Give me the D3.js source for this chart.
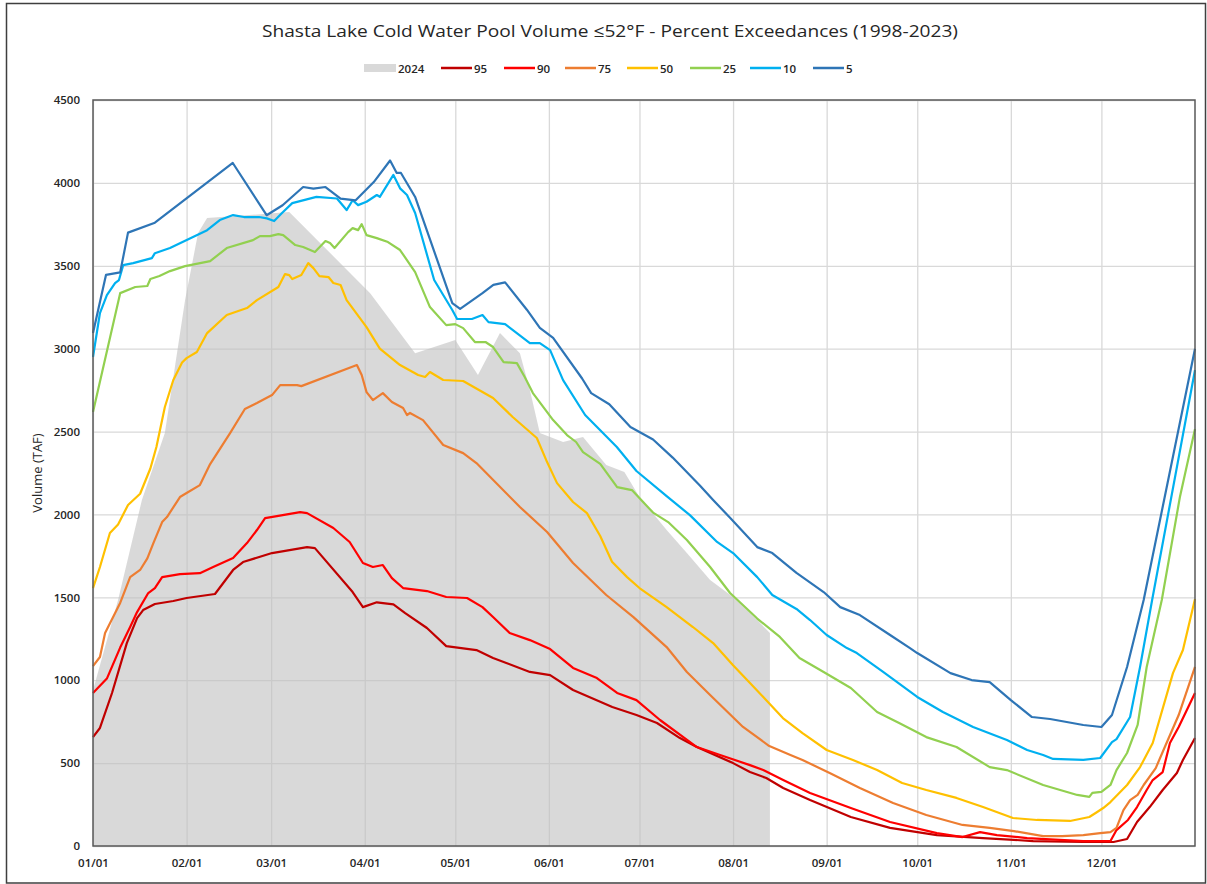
<!DOCTYPE html>
<html>
<head>
<meta charset="utf-8">
<script src="https://cdn.jsdelivr.net/npm/d3@7"></script>
<style>
    body { margin: 0; background: #fff; }
    svg { display: block; font-family: "Open Sans", "Noto Sans", sans-serif; }
</style>
</head>
<body>
<svg id="chart" width="1207" height="884"></svg>
<script>
// month ticks (day of year) and their labels
const monthDays = [0, 31, 59, 90, 120, 151, 181, 212, 243, 273, 304, 334];
const monthLabels = ["01/01", "02/01", "03/01", "04/01", "05/01", "06/01", "07/01", "08/01", "09/01", "10/01", "11/01", "12/01"];
const yTicks = [0, 500, 1000, 1500, 2000, 2500, 3000, 3500, 4000, 4500];

// 2024 observed (grey area)
const days2024 = [0, 8.3, 16.2, 23.8, 30.5, 34.8, 37.8, 65, 91.8, 106.7, 120, 127.5, 134.8, 141.4, 144.7, 148, 155.7, 162.3, 170, 176, 181, 190, 196.7, 204.4, 212, 220, 224.2];
const vol2024 = [940, 1484, 2087, 2491, 3293, 3697, 3788, 3824, 3335, 2973, 3052, 2841, 3094, 2973, 2750, 2491, 2437, 2467, 2298, 2256, 2105, 1906, 1767, 1604, 1502, 1363, 1285];

// percent exceedances 1998-2023
const days95 = [0, 2.3, 6.3, 11.2, 14.6, 16.6, 20.5, 26.6, 31, 40.4, 46.4, 49.7, 59.3, 70.9, 73.5, 86, 89.4, 94, 99.5, 103.4, 110.6, 117, 127, 132.5, 144.7, 151.4, 159, 172, 180, 186.8, 194.4, 200, 212, 217.6, 223, 228.6, 237.5, 251, 264, 279.5, 294.8, 311.4, 328, 338, 342.5, 345.8, 350, 354.3, 359, 361, 365];
const vol95 = [657, 712, 923, 1224, 1375, 1423, 1460, 1478, 1496, 1520, 1665, 1713, 1767, 1803, 1797, 1532, 1441, 1470, 1458, 1405, 1315, 1206, 1182, 1134, 1050, 1031, 941, 838, 790, 742, 651, 597, 500, 446, 410, 350, 277, 175, 109, 66, 48, 30, 24, 24, 42, 145, 235, 338, 440, 519, 651];

const days90 = [0, 4.6, 9, 12.3, 14.6, 18.3, 20.5, 22.9, 28.8, 35.4, 39.8, 46.4, 51, 54.3, 57, 60.9, 68.6, 70.9, 79.6, 85, 89.4, 92.7, 96, 99, 102.7, 110.6, 117, 123.9, 129, 132.5, 138, 144.7, 151.4, 159, 166.9, 173.6, 180, 187.8, 200, 207.7, 217.6, 222, 228.6, 237.5, 251, 264, 279.5, 288, 293.8, 299.4, 309.4, 328, 337, 339, 342.8, 345.8, 349, 351, 354.3, 356.7, 359.6, 365];
const vol90 = [923, 1010, 1197, 1321, 1411, 1526, 1556, 1622, 1640, 1646, 1683, 1737, 1827, 1906, 1978, 1990, 2014, 2008, 1918, 1834, 1707, 1683, 1695, 1616, 1556, 1538, 1502, 1496, 1441, 1381, 1285, 1242, 1188, 1074, 1013, 923, 880, 760, 597, 549, 488, 458, 398, 320, 229, 145, 78, 54, 84, 66, 48, 30, 30, 96, 157, 235, 338, 398, 446, 621, 718, 923];

const days75 = [0, 2.3, 4, 9, 12.3, 15.6, 18, 20, 22.9, 24.5, 28.8, 31, 35.4, 38.8, 45.4, 50.3, 54.3, 59.3, 62, 67.6, 69, 87.4, 89, 90.6, 92.7, 96, 99, 102.7, 104, 105, 109.3, 116, 122.6, 127, 141.4, 150.4, 159, 170, 179, 190, 196.7, 204.4, 215.3, 224, 231, 235, 244, 254, 265, 276, 288, 297, 305, 314.7, 321, 328, 333.6, 337, 339, 341.3, 343.5, 346, 348, 352, 355, 359.6, 365];
const vol75 = [1085, 1140, 1285, 1466, 1622, 1665, 1735, 1827, 1954, 1984, 2105, 2129, 2177, 2304, 2491, 2636, 2672, 2720, 2780, 2780, 2774, 2901, 2841, 2738, 2690, 2732, 2678, 2642, 2600, 2612, 2569, 2419, 2370, 2310, 2045, 1894, 1707, 1514, 1381, 1200, 1050, 911, 718, 603, 549, 519, 440, 350, 259, 187, 127, 109, 90, 60, 60, 66, 78, 84, 109, 217, 277, 308, 368, 470, 597, 790, 1080];

const days50 = [0, 2.3, 5.6, 8.3, 11.6, 15.6, 19, 21, 23.8, 26.6, 29.5, 31, 34.4, 37.8, 44.3, 51, 54.3, 61.4, 63.6, 65, 66, 69, 71.3, 73, 75, 78, 79.6, 82, 84, 90.6, 95, 101.7, 107.7, 110, 111.6, 116, 122.6, 132.5, 139, 147, 150.4, 153.7, 159, 163.6, 168, 171.9, 176.9, 181, 190, 198.7, 205.4, 212, 217.6, 222, 228.5, 235, 243, 251.7, 259.7, 268, 276, 286, 294.8, 304.7, 312.7, 323.6, 330, 332.6, 334.6, 337, 342.5, 346.8, 351, 357.7, 361, 365];
const vol50 = [1556, 1683, 1888, 1940, 2057, 2125, 2277, 2407, 2648, 2811, 2916, 2943, 2980, 3094, 3203, 3245, 3293, 3372, 3450, 3444, 3420, 3444, 3516, 3486, 3438, 3432, 3396, 3384, 3293, 3130, 3000, 2901, 2841, 2829, 2859, 2811, 2805, 2702, 2588, 2461, 2316, 2189, 2075, 2008, 1870, 1715, 1622, 1556, 1441, 1321, 1224, 1090, 983, 899, 772, 681, 579, 519, 458, 380, 338, 290, 235, 169, 157, 151, 175, 205, 229, 265, 368, 476, 621, 1043, 1182, 1490];

const days25 = [0, 9, 14, 18, 19, 22, 25.5, 30.5, 38.8, 44.3, 53, 55.3, 58.6, 61.4, 63, 67, 69.6, 73.5, 77, 78.5, 80, 84.5, 86, 87.8, 89, 90.6, 94, 97.7, 101.7, 106.7, 111.6, 117, 120, 122.6, 126.5, 130, 132.5, 136, 140.4, 143, 145.7, 152.4, 157, 160, 162.3, 168, 173.6, 178.5, 185.5, 190.5, 196.7, 204.4, 211, 220, 227.5, 234, 242, 251, 259.7, 267, 276, 286, 297, 302.7, 314.7, 326, 330, 331, 334, 337, 339, 342.5, 346, 349, 354, 360, 365];
const vol25 = [2618, 3335, 3372, 3378, 3420, 3438, 3468, 3498, 3528, 3607, 3655, 3679, 3679, 3691, 3685, 3625, 3613, 3583, 3649, 3637, 3607, 3703, 3727, 3715, 3751, 3685, 3667, 3643, 3595, 3462, 3251, 3142, 3148, 3124, 3040, 3040, 3010, 2919, 2913, 2829, 2732, 2569, 2479, 2437, 2376, 2305, 2165, 2147, 2011, 1954, 1846, 1683, 1526, 1372, 1261, 1134, 1050, 953, 808, 742, 657, 597, 476, 458, 368, 308, 296, 320, 326, 368, 458, 561, 730, 1080, 1484, 2105, 2515];

const days10 = [0, 2.3, 4.6, 7.3, 8.6, 10, 13.3, 19.5, 20.5, 25.5, 37.8, 42, 46.4, 50, 55, 57.6, 60, 62.6, 66, 74, 80.8, 84, 86, 87.8, 90.6, 94, 95, 99.5, 101.7, 104, 106.7, 113, 119, 120.6, 125.5, 129, 131, 136.5, 144.7, 148, 151.4, 155.7, 163, 173.5, 180, 190, 197.7, 206.7, 212, 220, 225, 233, 237.5, 243, 249.7, 253, 261.7, 273, 281.5, 291.5, 302.7, 309.4, 314.7, 318, 328, 333.6, 337.5, 339, 343.5, 346.8, 350.8, 365];
const vol10 = [2950, 3215, 3323, 3396, 3414, 3504, 3516, 3546, 3576, 3607, 3715, 3776, 3806, 3794, 3794, 3786, 3770, 3818, 3878, 3916, 3906, 3836, 3895, 3866, 3886, 3927, 3916, 4048, 3967, 3927, 3818, 3414, 3233, 3179, 3179, 3203, 3160, 3148, 3034, 3034, 2991, 2810, 2600, 2407, 2262, 2110, 1996, 1834, 1767, 1622, 1514, 1430, 1363, 1273, 1194, 1164, 1050, 899, 808, 718, 639, 579, 549, 525, 519, 531, 627, 645, 778, 1080, 1484, 2871];

const days5 = [0, 4.3, 9, 11.6, 20.5, 46.3, 57.5, 62.8, 69.6, 73, 77, 82, 87, 93, 98.4, 100.6, 102, 106.7, 119, 121.6, 129, 132.6, 136.5, 143.7, 148, 152.4, 162, 165, 171, 178, 185.5, 192, 201, 205.4, 211, 220, 225, 233, 242, 247.5, 254, 264, 270.6, 273, 284, 291, 297, 304, 311, 317, 328, 334, 337.5, 342.5, 348, 365];
const vol5 = [3095, 3445, 3460, 3700, 3760, 4120, 3805, 3865, 3975, 3965, 3975, 3905, 3895, 4005, 4135, 4060, 4060, 3915, 3275, 3240, 3335, 3385, 3400, 3235, 3125, 3065, 2820, 2732, 2665, 2527, 2452, 2343, 2174, 2087, 1980, 1803, 1767, 1647, 1532, 1441, 1393, 1273, 1194, 1164, 1043, 1001, 989, 880, 778, 766, 730, 718, 790, 1080, 1484, 3000];

const seriesNames = ["95", "90", "75", "50", "25", "10", "5"];
const seriesDays = [days95, days90, days75, days50, days25, days10, days5];
const seriesVols = [vol95, vol90, vol75, vol50, vol25, vol10, vol5];
const seriesColors = ["#c00000", "#ff0000", "#ed7d31", "#ffc000", "#92d050", "#00b0f0", "#2e75b6"];

const svg = d3.select("#chart");
const margin = { top: 100, right: 12, bottom: 38, left: 93 };
const width = 1195 - margin.left;
const height = 846 - margin.top;

// outer frame
svg.append("rect")
    .attr("x", 6.5).attr("y", 3.5)
    .attr("width", 1199).attr("height", 879.5)
    .attr("fill", "#fff")
    .attr("stroke", "#3f3f3f")
    .attr("stroke-width", 1.5);

svg.append("text")
    .attr("x", 610)
    .attr("y", 37)
    .attr("text-anchor", "middle")
    .attr("font-size", 17)
    .attr("fill", "#262626")
    .attr("textLength", 696)
    .attr("lengthAdjust", "spacingAndGlyphs")
    .text("Shasta Lake Cold Water Pool Volume \u226452\u00b0F - Percent Exceedances (1998-2023)");

const g = svg.append("g").attr("transform", `translate(${margin.left},${margin.top})`);

const x = d3.scaleLinear().domain([0, 365]).range([0, width]);
const y = d3.scaleLinear().domain([0, 4500]).range([height, 0]);

// y grid + labels
const yAxis = g.append("g")
    .call(d3.axisLeft(y).tickValues(yTicks).tickSize(-width).tickPadding(13).tickFormat(d3.format("d")));
yAxis.select(".domain").remove();
yAxis.selectAll("line").attr("stroke", "#d9d9d9").attr("stroke-width", 1.3);
yAxis.selectAll("text")
    .attr("font-size", 11.5)
    .attr("font-weight", 600)
    .attr("fill", "#262626")
    .attr("font-family", "Open Sans, sans-serif");

// x grid + labels
const xAxis = g.append("g")
    .attr("transform", `translate(0,${height})`)
    .call(d3.axisBottom(x).tickValues(monthDays).tickSize(-height).tickPadding(13)
        .tickFormat((d, i) => monthLabels[i]));
xAxis.select(".domain").remove();
xAxis.selectAll("line").attr("stroke", "#d9d9d9").attr("stroke-width", 1.3);
xAxis.selectAll("text")
    .attr("font-size", 11.5)
    .attr("font-weight", 600)
    .attr("fill", "#262626")
    .attr("font-family", "Open Sans, sans-serif");

// 2024 area
const area = d3.area()
    .x(d => x(d[0]))
    .y0(y(0))
    .y1(d => y(d[1]));

const pts2024 = days2024.map((d, i) => [d, vol2024[i]]);
g.append("path")
    .datum(pts2024)
    .attr("fill", "#bfbfbf")
    .attr("fill-opacity", 0.6)
    .attr("d", area);

const line = d3.line()
    .x(d => x(d[0]))
    .y(d => y(d[1]));

seriesNames.forEach((name, k) => {
    const pts = seriesDays[k].map((d, i) => [d, seriesVols[k][i]]);
    g.append("path")
        .datum(pts)
        .attr("fill", "none")
        .attr("stroke", seriesColors[k])
        .attr("stroke-width", 2.2)
        .attr("stroke-linejoin", "round")
        .attr("d", line);
});

// plot border
g.append("rect")
    .attr("width", width)
    .attr("height", height)
    .attr("fill", "none")
    .attr("stroke", "#595959")
    .attr("stroke-width", 1.5);

// axis title
svg.append("text")
    .attr("transform", "translate(42,473) rotate(-90)")
    .attr("text-anchor", "middle")
    .attr("font-size", 13)
    .attr("fill", "#262626")
    .text("Volume (TAF)");

// legend
const legend = svg.append("g").attr("font-size", 11.5).attr("font-weight", 600).attr("fill", "#262626");
const legendX = [364, 441, 504, 565, 627, 690, 750, 813];
legend.append("rect")
    .attr("x", legendX[0]).attr("y", 64)
    .attr("width", 32).attr("height", 8)
    .attr("fill", "#d9d9d9");
legend.append("text")
    .attr("x", legendX[0] + 34).attr("y", 72.5)
    .text("2024");
seriesNames.forEach((name, k) => {
    const lx = legendX[k + 1];
    legend.append("line")
        .attr("x1", lx).attr("x2", lx + 31)
        .attr("y1", 68).attr("y2", 68)
        .attr("stroke", seriesColors[k])
        .attr("stroke-width", 2.5);
    legend.append("text")
        .attr("x", lx + 33).attr("y", 72.5)
        .text(name);
});
</script>
</body>
</html>
